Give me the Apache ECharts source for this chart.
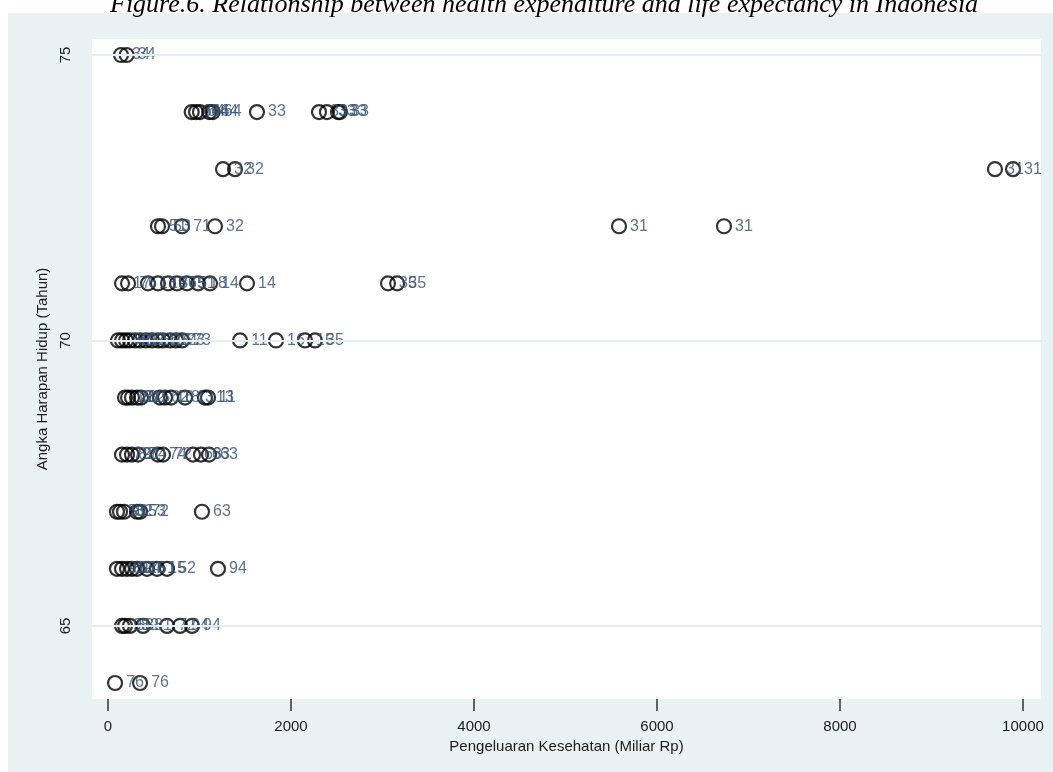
<!DOCTYPE html>
<html>
<head>
<meta charset="utf-8">
<script src="https://cdn.jsdelivr.net/npm/echarts@6/dist/echarts.min.js"></script>
<style>
html,body{margin:0;padding:0;background:#fff;}
#bg{position:absolute;left:8px;top:13px;width:1045px;height:759px;background:#eaf1f3;}
#chart{position:absolute;left:0;top:0;width:1053px;height:772px;}
</style>
</head>
<body>
<div id="bg"></div>
<div id="chart"></div>
<script>
// Health expenditure (Miliar Rp), life expectancy (years), province code label
const spending = [
  142, 204,
  915, 962, 1005, 1107, 1144, 1628, 2306, 2393, 2514, 2535,
  1257, 1388, 9694, 9891,
  546, 590, 809, 1169, 5585, 6732,
  153, 219, 437, 546, 656, 754, 863, 984, 1115, 1519, 3060, 3160,
  109, 153, 197, 240, 295, 350, 415, 481, 546, 601, 678, 743, 809, 1443, 1836, 2153, 2262,
  186, 219, 262, 317, 361, 568, 623, 689, 842, 1060, 1093,
  153, 208, 262, 328, 546, 601, 929, 1016, 1104,
  98, 131, 175, 317, 350, 1027,
  98, 153, 208, 262, 317, 426, 536, 645, 1202,
  153, 186, 240, 383, 645, 787, 918,
  77, 350
];
const lifeExp = [
  75, 75,
  74, 74, 74, 74, 74, 74, 74, 74, 74, 74,
  73, 73, 73, 73,
  72, 72, 72, 72, 72, 72,
  71, 71, 71, 71, 71, 71, 71, 71, 71, 71, 71, 71,
  70, 70, 70, 70, 70, 70, 70, 70, 70, 70, 70, 70, 70, 70, 70, 70, 70,
  69, 69, 69, 69, 69, 69, 69, 69, 69, 69, 69,
  68, 68, 68, 68, 68, 68, 68, 68, 68,
  67, 67, 67, 67, 67, 67,
  66, 66, 66, 66, 66, 66, 66, 66, 66,
  65, 65, 65, 65, 65, 65, 65,
  64, 64
];
const provinceCode = [
  "34", "34",
  "64", "64", "64", "64", "64", "33", "33", "33", "33", "33",
  "32", "32", "31", "31",
  "51", "53", "71", "32", "31", "31",
  "17", "76", "13", "19", "36", "75", "51", "18", "14", "14", "35", "35",
  "74", "72", "64", "81", "12", "71", "74", "52", "61", "16", "21", "73", "73", "11", "16", "15", "35",
  "12", "21", "81", "82", "15", "62", "16", "18", "13", "13", "11",
  "72", "82", "91", "74", "74", "72", "63", "63", "63",
  "53", "91", "82", "53", "72", "63",
  "91", "81", "53", "94", "15", "51", "15", "52", "94",
  "91", "53", "82", "81", "72", "94", "94",
  "76", "76"
];
const xTicks = [0, 2000, 4000, 6000, 8000, 10000];
const yTicks = [65, 70, 75];

const points = spending.map((x, i) => ({ value: [x, lifeExp[i]], label: { formatter: provinceCode[i] } }));

const chart = echarts.init(document.getElementById('chart'), null, { renderer: 'canvas' });
const axisFont = { fontFamily: 'Liberation Sans, Arial, sans-serif', fontSize: 15, color: '#1a1a1a' };

chart.setOption({
  animation: false,
  backgroundColor: 'transparent',
  graphic: [{
    type: 'text',
    left: 110,
    top: -8,
    style: {
      text: 'Figure.6. Relationship between health expenditure and life expectancy in Indonesia',
      font: 'italic 26px "Liberation Serif", "Times New Roman", serif',
      fill: '#000'
    }
  }],
  grid: {
    left: 92, right: 12, top: 39, bottom: 73,
    show: true, backgroundColor: '#ffffff', borderWidth: 0
  },
  xAxis: {
    type: 'value',
    min: -175, max: 10197,
    name: 'Pengeluaran Kesehatan (Miliar Rp)',
    nameLocation: 'middle',
    nameGap: 37,
    nameTextStyle: axisFont,
    axisLine: { show: false },
    axisTick: { show: true, length: 12, customValues: xTicks, lineStyle: { color: '#333', width: 1.5 } },
    axisLabel: Object.assign({ customValues: xTicks, margin: 20, formatter: v => String(v) }, axisFont),
    splitLine: { show: false }
  },
  yAxis: {
    type: 'value',
    min: 63.72, max: 75.28,
    name: 'Angka Harapan Hidup (Tahun)',
    nameLocation: 'middle',
    nameRotate: 90,
    nameGap: 36,
    nameTextStyle: axisFont,
    axisLine: { show: false },
    axisTick: { show: false },
    axisLabel: Object.assign({ customValues: yTicks, rotate: 90, margin: 19, formatter: v => String(v) }, axisFont),
    splitLine: { show: false }
  },
  series: [
    {
      type: 'line',
      data: [],
      z: 1,
      silent: true,
      markLine: {
        silent: true,
        symbol: ['none', 'none'],
        label: { show: false },
        lineStyle: { color: '#e6edf0', width: 2, type: 'solid' },
        data: yTicks.map(v => ({ yAxis: v }))
      }
    },
    {
      type: 'scatter',
      z: 3,
      data: points,
      symbol: 'circle',
      symbolSize: 14,
      itemStyle: { color: 'rgba(255,255,255,0)', borderColor: '#000', borderWidth: 2.2 },
      label: {
        show: true,
        position: 'right',
        distance: 3,
        color: '#34506f',
        fontFamily: 'Liberation Sans, Arial, sans-serif',
        fontSize: 16
      },
      emphasis: { disabled: true }
    }
  ]
});
</script>
</body>
</html>
